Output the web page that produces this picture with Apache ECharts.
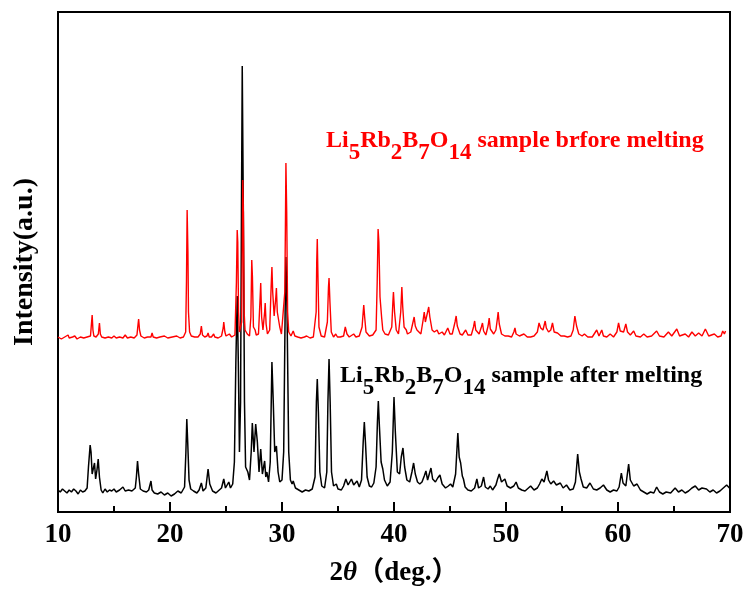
<!DOCTYPE html>
<html>
<head>
<meta charset="utf-8">
<title>XRD Li5Rb2B7O14</title>
<script src="https://cdn.jsdelivr.net/npm/echarts@6/dist/echarts.min.js"></script>
<style>
	html, body { margin: 0; padding: 0; background: #fff; }
	#lineGraph { width: 748px; height: 597px; }
</style>
</head>
<body>
<div id="lineGraph"></div>
<script>
	/**
	 * 数据 (2θ, 强度 a.u.)
	 */
	var xTicks = [10, 20, 30, 40, 50, 60, 70];
	var yTitle = 'Intensity(a.u.)';
	var afterName = 'Li5Rb2B7O14 sample after melting';
	var beforeName = 'Li5Rb2B7O14 sample brfore melting';

	// 熔化后 (黑)
	var afterData = [
		[10.0,22],[10.2,20],[10.4,23],[10.6,21],[10.8,19],[11.0,22],[11.2,20],[11.4,23],[11.6,21],[11.8,18],
		[12.0,22],[12.2,20],[12.4,21],[12.6,24],[12.72,45],[12.87,67],[12.95,60],[13.05,38],[13.15,40],[13.26,49],
		[13.36,33],[13.48,42],[13.59,53],[13.7,35],[13.85,22],[14.0,19],[14.2,23],[14.4,20],[14.6,22],[14.8,21],
		[15.0,23],[15.2,20],[15.5,22],[15.8,25],[16.0,21],[16.3,22],[16.6,21],[16.9,24],[17.0,35],[17.1,51],
		[17.2,38],[17.35,23],[17.6,21],[17.9,20],[18.1,22],[18.3,31],[18.4,22],[18.6,19],[18.9,18],[19.2,20],
		[19.5,17],[19.8,19],[20.1,16],[20.4,18],[20.7,21],[21.0,19],[21.3,25],[21.42,60],[21.5,93],[21.58,70],
		[21.7,32],[21.85,23],[22.1,21],[22.4,19],[22.6,22],[22.8,29],[22.95,21],[23.2,24],[23.4,43],[23.55,28],
		[23.8,21],[24.1,19],[24.4,22],[24.6,24],[24.8,33],[24.95,24],[25.1,23],[25.25,30],[25.4,24],[25.6,28],
		[25.75,50],[25.88,150],[26.0,216],[26.1,150],[26.2,60],[26.3,110],[26.38,300],[26.45,446],[26.55,300],[26.65,110],
		[26.75,45],[26.85,43],[26.95,40],[27.1,32],[27.25,60],[27.35,89],[27.5,60],[27.65,88],[27.8,70],[27.95,40],
		[28.1,63],[28.25,38],[28.45,51],[28.55,35],[28.65,40],[28.8,30],[28.95,50],[29.1,150],[29.22,110],[29.35,60],
		[29.5,66],[29.65,40],[29.8,30],[30.0,32],[30.15,60],[30.28,200],[30.35,255],[30.45,200],[30.6,60],[30.75,32],
		[30.9,28],[31.0,31],[31.2,24],[31.5,22],[31.8,20],[32.1,22],[32.4,21],[32.7,23],[32.95,35],[33.07,110],
		[33.15,133],[33.25,100],[33.38,40],[33.55,26],[33.8,24],[34.0,40],[34.1,110],[34.2,153],[34.3,110],[34.42,40],
		[34.6,26],[34.85,28],[35.0,23],[35.3,22],[35.5,26],[35.7,33],[35.9,27],[36.2,33],[36.4,27],[36.7,31],
		[36.9,25],[37.1,32],[37.25,70],[37.35,90],[37.45,70],[37.6,35],[37.8,26],[38.0,25],[38.2,29],[38.4,45],
		[38.52,90],[38.6,111],[38.7,85],[38.85,50],[39.0,43],[39.15,32],[39.4,26],[39.65,30],[39.85,60],[40.0,115],
		[40.12,80],[40.3,40],[40.5,38],[40.65,55],[40.8,64],[40.95,45],[41.15,32],[41.4,30],[41.6,40],[41.75,49],
		[41.9,38],[42.1,30],[42.3,28],[42.5,30],[42.7,36],[42.85,41],[43.0,32],[43.15,38],[43.3,44],[43.45,33],
		[43.7,30],[43.9,34],[44.1,37],[44.3,28],[44.6,24],[44.85,26],[45.05,28],[45.25,25],[45.5,38],[45.7,79],
		[45.82,55],[45.95,49],[46.1,36],[46.2,33],[46.35,25],[46.6,22],[46.9,21],[47.2,24],[47.4,33],[47.55,24],
		[47.8,26],[48.0,35],[48.15,25],[48.4,23],[48.6,26],[48.8,22],[49.1,27],[49.25,33],[49.4,38],[49.6,30],
		[49.9,33],[50.1,26],[50.4,24],[50.7,26],[50.9,30],[51.1,24],[51.4,22],[51.7,21],[52.0,24],[52.2,26],
		[52.5,22],[52.8,24],[53.0,28],[53.2,33],[53.4,30],[53.65,41],[53.8,32],[54.0,28],[54.25,31],[54.5,27],
		[54.85,29],[55.1,24],[55.4,27],[55.7,22],[56.0,23],[56.2,30],[56.4,58],[56.55,40],[56.7,33],[56.9,25],
		[57.2,24],[57.5,29],[57.8,23],[58.1,22],[58.4,24],[58.7,27],[59.0,22],[59.3,20],[59.6,22],[59.9,21],
		[60.1,25],[60.3,39],[60.45,29],[60.7,26],[60.95,48],[61.1,32],[61.4,26],[61.7,28],[62.0,22],[62.3,20],
		[62.6,18],[62.9,20],[63.2,19],[63.45,25],[63.7,20],[64.0,18],[64.3,20],[64.7,19],[65.1,24],[65.4,20],
		[65.7,22],[66.0,19],[66.3,21],[66.6,24],[66.9,26],[67.2,22],[67.5,24],[67.9,23],[68.2,20],[68.5,22],
		[68.8,19],[69.1,21],[69.4,24],[69.7,27],[69.95,24]
	];

	// 熔化前 (红)
	var beforeData = [
		[10.0,175],[10.3,173],[10.6,175],[10.9,177],[11.0,174],[11.3,175],[11.5,176],[11.7,173],[12.0,175],[12.3,174],
		[12.6,175],[12.9,176],[13.0,190],[13.05,197],[13.12,182],[13.2,176],[13.4,175],[13.6,178],[13.7,189],[13.78,178],
		[13.9,175],[14.2,174],[14.5,175],[14.8,174],[15.0,176],[15.2,174],[15.5,175],[15.8,174],[16.0,177],[16.2,174],
		[16.5,175],[16.8,174],[17.05,177],[17.15,188],[17.2,193],[17.28,182],[17.4,176],[17.7,174],[18.0,175],[18.3,175],
		[18.4,179],[18.5,175],[18.8,174],[19.1,175],[19.5,176],[19.8,174],[20.2,175],[20.6,176],[20.9,174],[21.2,175],
		[21.4,180],[21.47,230],[21.53,302],[21.6,260],[21.65,200],[21.75,180],[21.9,176],[22.2,175],[22.5,175],[22.7,178],
		[22.8,186],[22.9,177],[23.1,175],[23.3,176],[23.4,179],[23.5,175],[23.7,175],[23.9,178],[24.0,175],[24.3,174],
		[24.6,176],[24.75,184],[24.8,190],[24.9,180],[25.0,176],[25.3,178],[25.5,175],[25.8,177],[25.93,230],[26.0,282],
		[26.05,270],[26.12,200],[26.2,180],[26.3,178],[26.4,190],[26.45,260],[26.5,332],[26.55,300],[26.62,200],[26.7,182],
		[26.8,184],[26.9,178],[27.1,176],[27.22,195],[27.3,252],[27.36,235],[27.45,185],[27.6,182],[27.7,177],[27.9,178],
		[28.05,215],[28.1,229],[28.18,195],[28.3,182],[28.45,200],[28.5,209],[28.58,188],[28.7,178],[28.9,182],[29.03,225],
		[29.1,245],[29.17,220],[29.3,196],[29.45,215],[29.5,224],[29.58,200],[29.7,199],[29.8,185],[29.95,178],[30.1,180],
		[30.25,220],[30.3,280],[30.35,349],[30.42,300],[30.5,200],[30.6,180],[30.8,176],[31.0,181],[31.05,183],[31.15,176],
		[31.4,175],[31.7,174],[32.0,175],[32.2,176],[32.5,174],[32.8,175],[33.05,200],[33.1,250],[33.15,273],[33.22,230],
		[33.3,185],[33.5,176],[33.8,175],[34.05,190],[34.15,225],[34.2,234],[34.28,210],[34.4,180],[34.6,175],[34.8,178],
		[34.95,175],[35.2,175],[35.5,176],[35.65,185],[35.7,187],[35.8,178],[36.0,175],[36.4,178],[36.6,175],[36.9,176],
		[37.15,185],[37.25,200],[37.3,207],[37.38,195],[37.5,180],[37.6,180],[37.8,176],[38.1,177],[38.4,182],[38.5,230],
		[38.58,283],[38.65,270],[38.75,215],[38.9,194],[39.0,182],[39.2,178],[39.5,177],[39.8,185],[39.9,210],[39.95,220],
		[40.05,200],[40.2,182],[40.4,178],[40.6,200],[40.7,225],[40.78,205],[40.9,185],[41.1,182],[41.2,178],[41.5,180],
		[41.7,190],[41.8,195],[41.9,186],[42.05,182],[42.2,181],[42.4,178],[42.6,192],[42.7,200],[42.8,190],[42.95,188],
		[43.1,205],[43.2,195],[43.4,182],[43.6,180],[43.85,182],[44.0,178],[44.3,180],[44.5,177],[44.8,184],[45.0,178],
		[45.2,178],[45.45,190],[45.55,196],[45.65,186],[45.9,178],[46.1,177],[46.4,182],[46.6,177],[46.9,177],[47.1,185],
		[47.2,191],[47.3,182],[47.6,178],[47.8,185],[47.9,189],[48.0,181],[48.2,177],[48.4,186],[48.5,194],[48.6,183],
		[48.9,178],[49.1,182],[49.25,195],[49.3,200],[49.4,188],[49.6,178],[49.9,176],[50.2,176],[50.5,175],[50.7,180],
		[50.8,184],[50.9,178],[51.2,176],[51.6,178],[51.9,175],[52.2,175],[52.5,176],[52.8,180],[52.95,189],[53.1,184],
		[53.3,182],[53.5,191],[53.6,184],[53.8,180],[54.0,182],[54.15,189],[54.3,180],[54.6,179],[54.9,176],[55.2,176],
		[55.5,175],[55.8,176],[56.0,182],[56.15,196],[56.3,186],[56.5,178],[56.8,176],[57.0,178],[57.3,175],[57.7,175],
		[58.1,182],[58.3,176],[58.55,182],[58.7,176],[59.0,175],[59.3,178],[59.6,175],[59.9,180],[60.05,189],[60.2,181],
		[60.5,180],[60.7,188],[60.85,180],[61.1,177],[61.4,181],[61.6,176],[62.0,175],[62.3,178],[62.6,175],[63.0,176],
		[63.45,181],[63.7,176],[64.1,175],[64.5,180],[64.8,176],[65.25,183],[65.5,176],[66.0,178],[66.3,175],[66.6,180],
		[66.9,176],[67.2,179],[67.5,176],[67.8,183],[68.1,176],[68.6,178],[68.9,175],[69.2,176],[69.35,181],[69.5,178],
		[69.6,181]
	];

	var serif = "'Liberation Serif', 'Times New Roman', 'Noto Sans CJK SC', serif";

	/**
	 * 带下标的化学式
	 */
	function formulaText(tail) {
		return '{m|Li}{s|5}{m|Rb}{s|2}{m|B}{s|7}{m|O}{s|14}{m| ' + tail + '}';
	}
	function formulaRich(color) {
		return {
			m: { fontSize: 24, fontWeight: 'bold', fontFamily: serif, fill: color, lineHeight: 24, verticalAlign: 'top' },
			s: { fontSize: 23, fontWeight: 'bold', fontFamily: serif, fill: color, lineHeight: 36, verticalAlign: 'bottom' }
		};
	}

	/**
	 * 绘图
	 */
	var dom = document.getElementById('lineGraph');
	var myChart = echarts.init(dom, null, { renderer: 'canvas' });
	var option = {
		animation: false,
		backgroundColor: '#fff',
		grid: {
			left: 58,
			right: 18,
			top: 12,
			bottom: 85,
			show: true,
			borderColor: '#000',
			borderWidth: 2
		},
		xAxis: {
			type: 'value',
			min: xTicks[0],
			max: xTicks[xTicks.length - 1],
			interval: 10,
			name: '{b|2}{i|θ}{b|（deg.）}',
			nameLocation: 'middle',
			nameGap: 48,
			nameTextStyle: {
				rich: {
					b: { fontSize: 27, fontWeight: 'bold', fontFamily: serif, color: '#000' },
					i: { fontSize: 27, fontWeight: 'bold', fontStyle: 'italic', fontFamily: serif, color: '#000' }
				}
			},
			axisLine: { show: true, lineStyle: { color: '#000', width: 2 } },
			axisTick: { inside: true, length: 10, lineStyle: { color: '#000', width: 2 } },
			minorTick: { show: true, splitNumber: 2, length: 6, lineStyle: { color: '#000', width: 2 } },
			axisLabel: { margin: 10, fontSize: 27, fontWeight: 'bold', fontFamily: serif, color: '#000' },
			splitLine: { show: false }
		},
		yAxis: {
			type: 'value',
			min: 0,
			max: 500,
			name: yTitle,
			nameLocation: 'middle',
			nameGap: 19,
			nameTextStyle: { fontSize: 28, fontWeight: 'bold', fontFamily: serif, color: '#000' },
			axisLine: { show: true, lineStyle: { color: '#000', width: 2 } },
			axisTick: { show: false },
			axisLabel: { show: false },
			splitLine: { show: false }
		},
		graphic: [
			{
				type: 'text',
				left: 326,
				top: 129,
				style: { text: formulaText('sample brfore melting'), rich: formulaRich('#ff0000') }
			},
			{
				type: 'text',
				left: 340,
				top: 364,
				style: { text: formulaText('sample after melting'), rich: formulaRich('#000') }
			}
		],
		series: [
			{
				name: afterName,
				type: 'line',
				data: afterData,
				symbol: 'none',
				lineStyle: { color: '#000', width: 1.5 },
				z: 2
			},
			{
				name: beforeName,
				type: 'line',
				data: beforeData,
				symbol: 'none',
				lineStyle: { color: '#ff0000', width: 1.4 },
				z: 3
			}
		]
	};

	if (option && typeof option === 'object') {
		myChart.setOption(option, true);
	}
</script>
</body>
</html>
